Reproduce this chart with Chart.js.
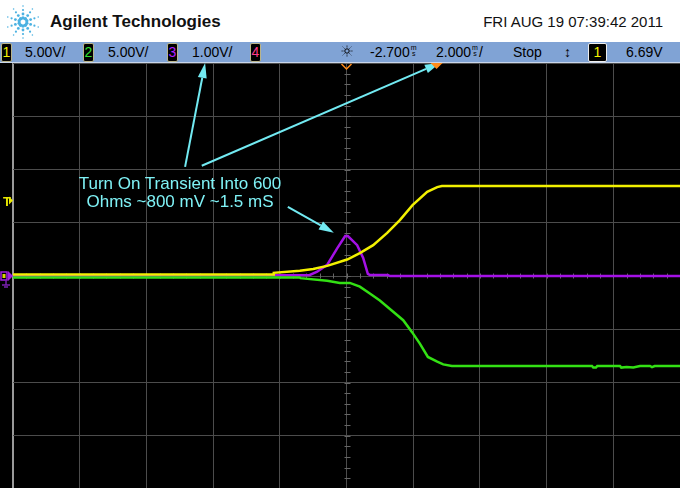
<!DOCTYPE html>
<html>
<head>
<meta charset="utf-8">
<script src="https://cdn.jsdelivr.net/npm/chart.js@4.4.0/dist/chart.umd.min.js"></script>
<style>
  html, body { margin: 0; padding: 0; width: 680px; height: 488px; overflow: hidden; background: #000; font-family: "Liberation Sans", Arial, sans-serif; }
  #head { position: absolute; left: 0; top: 0; width: 680px; height: 42px; background: #fff; }
  #logo { position: absolute; left: 4px; top: 3px; }
  #brand { position: absolute; left: 50px; top: 13px; font: bold 17px/17px "Liberation Sans Narrow", "Liberation Sans", Arial, sans-serif; color: #111; }
  #stamp { position: absolute; right: 17px; top: 14px; font: 15px/15px "Liberation Sans Narrow", "Liberation Sans", Arial, sans-serif; color: #111; }
  #bar { position: absolute; left: 0; top: 42px; width: 680px; height: 21px; background: #80a3d5; border-bottom: 1px solid #c9d6ea; box-sizing: border-box; }
  #bar > span { position: absolute; top: 3px; font: 14px/14px "Liberation Sans", Arial, sans-serif; color: #000; white-space: nowrap; }
  #bar > .box { top: 1px; height: 17px; width: 9px; background: #000; border: 1px solid #b9b48a; border-radius: 2px; text-align: center; line-height: 17px; }
  #bar .ms { position: static; display: inline-block; font-size: 7px; line-height: 6px; vertical-align: 1px; text-align: center; margin: 0 1px; }
  #plot { position: absolute; left: 0; top: 63px; }
  #note { position: absolute; left: 60px; top: 175px; width: 240px; text-align: center; font: 17px/18px "Liberation Sans", Arial, sans-serif; color: #7ff2f6; }
  #tmark { position: absolute; left: 3px; top: 195px; font: bold 13px/13px "Liberation Sans", Arial, sans-serif; color: #e8e800; }
</style>
</head>
<body>
<div id="head">
  <svg id="logo" width="38" height="38" viewBox="-19 -19 38 38"></svg>
  <div id="brand">Agilent Technologies</div>
  <div id="stamp">FRI AUG 19 07:39:42 2011</div>
</div>
<div id="bar">
  <span class="box" style="left:1px;color:#f4f400">1</span>
  <span style="left:25px">5.00V/</span>
  <span class="box" style="left:83px;color:#30e030">2</span>
  <span style="left:108px">5.00V/</span>
  <span class="box" style="left:167px;color:#b020ff">3</span>
  <span style="left:192px">1.00V/</span>
  <span class="box" style="left:250px;color:#ff3a8a">4</span>
  <span style="left:340px;top:2px"><svg width="14" height="14" viewBox="-7 -7 14 14" id="sun"></svg></span>
  <span style="left:370px">-2.700<span class="ms">m<br>s</span></span>
  <span style="left:436px">2.000<span class="ms">m<br>s</span>/</span>
  <span style="left:513px">Stop</span>
  <span style="left:564px;font-weight:bold">&#8597;</span>
  <span class="box" style="left:588px;width:17px;color:#f4f400;border-color:#eee">1</span>
  <span style="left:626px">6.69V</span>
</div>
<canvas id="plot" width="680" height="426"></canvas>
<div id="note">Turn On Transient Into 600<br>Ohms ~800 mV ~1.5 mS</div>
<div id="tmark">T</div>

<script>
// screen is 10 x 8 divisions, centre = 0,0
const xDivs = [-5, 5];
const yDivs = [-4, 4];

// channel 1 (yellow) in divisions
const ch1X = [-5.0, -1.10, -1.09, -0.70, -0.50, -0.29, 0.01, 0.20, 0.40, 0.61, 0.80, 0.99, 1.21, 1.36, 1.43, 5.0];
const ch1Y = [0.03, 0.03, 0.06, 0.10, 0.13, 0.19, 0.31, 0.43, 0.58, 0.81, 1.05, 1.33, 1.58, 1.67, 1.69, 1.69];

// channel 2 (green)
const ch2X = [-5.0, -0.70, -0.69, -0.29, -0.10, 0.05, 0.20, 0.35, 0.50, 0.70, 0.85, 0.98, 1.10, 1.22, 1.36, 1.45, 1.58, 3.68, 3.70, 3.74, 3.76, 4.10, 4.12, 4.20, 4.30, 4.40, 4.55, 4.58, 4.62, 5.0];
const ch2Y = [-0.03, -0.03, -0.04, -0.09, -0.13, -0.13, -0.20, -0.33, -0.46, -0.67, -0.83, -1.05, -1.27, -1.52, -1.61, -1.66, -1.69, -1.69, -1.72, -1.72, -1.69, -1.69, -1.72, -1.71, -1.72, -1.69, -1.69, -1.71, -1.69, -1.69];

// channel 3 (purple)
const ch3X = [-5.0, -0.55, -0.44, -0.29, -0.14, -0.02, 0.02, 0.16, 0.25, 0.32, 0.35, 0.62, 0.65, 5.0];
const ch3Y = [0.0, 0.02, 0.08, 0.21, 0.52, 0.75, 0.75, 0.58, 0.34, 0.04, 0.02, 0.02, 0.0, 0.0];

// trigger point and annotation arrows (divisions)
const triggerX = 1.35;
const arrows = [
  { from: [-2.42, 2.05], to: [-2.12, 4.0] },
  { from: [-2.17, 2.07], to: [1.40, 4.0] },
  { from: [-0.88, 1.30], to: [-0.19, 0.81] }
];

const pts = (xs, ys) => xs.map((v, i) => ({ x: v, y: ys[i] }));

// ---------- header decorations ----------
const logo = document.getElementById("logo");
let dots = "";
for (let a = 0; a < 10; a++) {
  const ang = a * Math.PI / 5 + Math.PI / 10;
  [[4, 1.7], [8, 1.4], [12, 1.1], [16, 0.8]].forEach(([r, s]) => {
    dots += `<circle cx="${(Math.cos(ang) * r).toFixed(2)}" cy="${(Math.sin(ang) * r).toFixed(2)}" r="${s}" fill="#4cb2e2"/>`;
  });
}
logo.innerHTML = dots;

const sun = document.getElementById("sun");
let rays = '<circle r="2.2" fill="none" stroke="#000" stroke-width="1"/>';
for (let a = 0; a < 8; a++) {
  const ang = a * Math.PI / 4;
  rays += `<line x1="${(Math.cos(ang) * 3.6).toFixed(2)}" y1="${(Math.sin(ang) * 3.6).toFixed(2)}" x2="${(Math.cos(ang) * 6).toFixed(2)}" y2="${(Math.sin(ang) * 6).toFixed(2)}" stroke="#000" stroke-width="1" stroke-dasharray="1 1"/>`;
}
sun.innerHTML = rays;

// ---------- scope extras ----------
const scopeOverlay = {
  id: "scopeOverlay",
  beforeDatasetsDraw(chart) {
    const { ctx, scales: { x, y } } = chart;
    ctx.save();
    ctx.strokeStyle = "#666";
    ctx.lineWidth = 1;
    const cx = Math.round(x.getPixelForValue(0)) + 0.5;
    const cy = Math.round(y.getPixelForValue(0)) + 0.5;
    for (let v = -25; v <= 25; v++) {
      const px = Math.round(x.getPixelForValue(v / 5)) + 0.5;
      ctx.beginPath(); ctx.moveTo(px, cy - 3); ctx.lineTo(px, cy + 2); ctx.stroke();
    }
    for (let v = -20; v <= 20; v++) {
      const py = Math.round(y.getPixelForValue(v / 5)) + 0.5;
      ctx.beginPath(); ctx.moveTo(cx - 3, py); ctx.lineTo(cx + 3, py); ctx.stroke();
    }
    ctx.restore();
  },
  afterDraw(chart) {
    const { ctx, scales: { x, y } } = chart;
    ctx.save();

    // arrows
    ctx.strokeStyle = ctx.fillStyle = "#72eaf2";
    ctx.lineWidth = 2;
    arrows.forEach(a => {
      const x0 = x.getPixelForValue(a.from[0]), y0 = y.getPixelForValue(a.from[1]);
      const x1 = x.getPixelForValue(a.to[0]), y1 = y.getPixelForValue(a.to[1]);
      const ang = Math.atan2(y1 - y0, x1 - x0);
      const hl = 15, hw = 4.5;
      const bx = x1 - Math.cos(ang) * hl, by = y1 - Math.sin(ang) * hl;
      ctx.beginPath(); ctx.moveTo(x0, y0); ctx.lineTo(bx, by); ctx.stroke();
      ctx.beginPath();
      ctx.moveTo(x1, y1);
      ctx.lineTo(bx + Math.sin(ang) * hw, by - Math.cos(ang) * hw);
      ctx.lineTo(bx - Math.sin(ang) * hw, by + Math.cos(ang) * hw);
      ctx.closePath(); ctx.fill();
    });

    // delay (hollow) and trigger (solid) markers on top edge
    const top = chart.chartArea.top;
    const dx = x.getPixelForValue(0);
    ctx.strokeStyle = "#ff8c1a"; ctx.lineWidth = 1.5;
    ctx.beginPath(); ctx.moveTo(dx - 5, top + 1); ctx.lineTo(dx, top + 6); ctx.lineTo(dx + 5, top + 1); ctx.stroke();
    const tx = x.getPixelForValue(triggerX);
    ctx.fillStyle = "#ff8c1a";
    ctx.beginPath(); ctx.moveTo(tx - 6, top); ctx.lineTo(tx + 6, top); ctx.lineTo(tx, top + 6); ctx.closePath(); ctx.fill();

    // trigger level arrow (yellow) and channel ground markers
    const ty = y.getPixelForValue(1.42);
    ctx.fillStyle = "#e8e800";
    ctx.beginPath(); ctx.moveTo(9, ty - 4); ctx.lineTo(13, ty); ctx.lineTo(9, ty + 4); ctx.closePath(); ctx.fill();
    const gy = y.getPixelForValue(0);
    ctx.fillStyle = "#a020e0";
    ctx.beginPath(); ctx.moveTo(8, gy - 5); ctx.lineTo(13, gy); ctx.lineTo(8, gy + 5); ctx.closePath(); ctx.fill();
    ctx.strokeStyle = "#a020e0"; ctx.lineWidth = 1.5;
    ctx.strokeRect(1, gy - 4, 6, 8);
    ctx.fillStyle = "#d8d800";
    ctx.fillRect(2.5, gy - 2, 3, 4);
    ctx.strokeStyle = "#7a20b0"; ctx.lineWidth = 1.5;
    ctx.beginPath();
    ctx.moveTo(6, gy + 4); ctx.lineTo(6, gy + 9);
    ctx.moveTo(2, gy + 9); ctx.lineTo(10, gy + 9);
    ctx.moveTo(4, gy + 11); ctx.lineTo(8, gy + 11);
    ctx.stroke();

    ctx.restore();
  }
};

const gridColor = c => c.tick.value === -5 ? "#9a9a9a" : "#4c4c4c";
const gridWidth = c => c.tick.value === -5 ? 2 : 1;

new Chart(document.getElementById("plot"), {
  type: "line",
  data: {
    datasets: [
      { label: "2", data: pts(ch2X, ch2Y), borderColor: "#33e014", borderWidth: 2.5 },
      { label: "1", data: pts(ch1X, ch1Y), borderColor: "#f2f000", borderWidth: 2.5 },
      { label: "3", data: pts(ch3X, ch3Y), borderColor: "#a411e6", borderWidth: 2.5 }
    ]
  },
  options: {
    responsive: false,
    animation: false,
    layout: { padding: { left: 13, right: 0, top: 0, bottom: 0 }, autoPadding: false },
    elements: { point: { radius: 0 }, line: { tension: 0, borderCapStyle: "round" } },
    plugins: { legend: { display: false }, tooltip: { enabled: false } },
    scales: {
      x: {
        type: "linear", min: xDivs[0], max: xDivs[1],
        ticks: { display: false, stepSize: 1 },
        grid: { color: gridColor, lineWidth: gridWidth, drawTicks: false },
        border: { display: false }
      },
      y: {
        type: "linear", min: yDivs[0], max: yDivs[1],
        ticks: { display: false, stepSize: 1 },
        grid: { color: "#4c4c4c", drawTicks: false },
        border: { display: false }
      }
    }
  },
  plugins: [scopeOverlay]
});
</script>
</body>
</html>
